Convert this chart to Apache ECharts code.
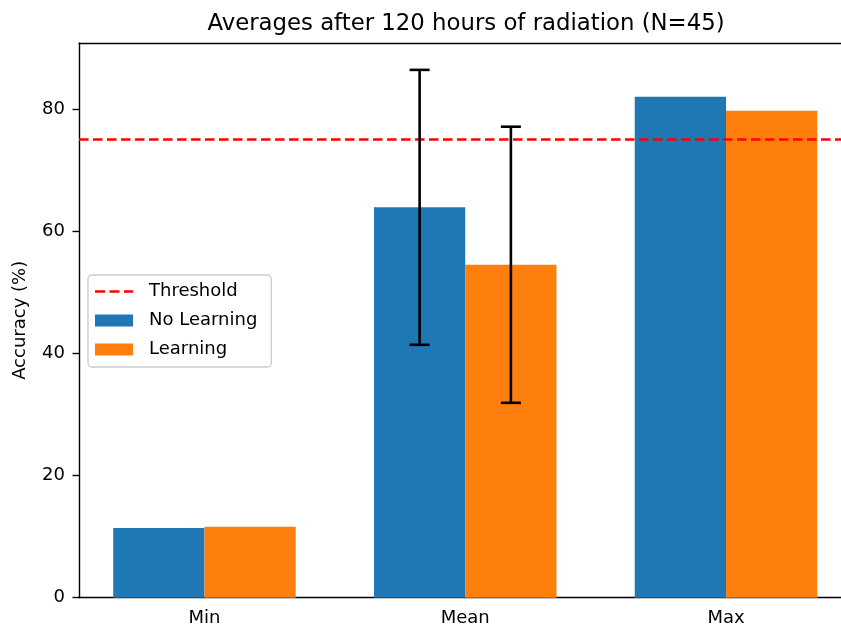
<!DOCTYPE html>
<html>
<head>
<meta charset="utf-8">
<script src="https://cdn.jsdelivr.net/npm/echarts@6/dist/echarts.min.js"></script>
<style>html,body{margin:0;padding:0;background:#fff;overflow:hidden;}#wrap{width:841px;height:630px;overflow:hidden;}#c{width:880px;height:630px;}</style>
</head>
<body>
<div id="wrap"><div id="c"></div></div>
<script>
var categories = ['Min', 'Mean', 'Max'];
var noLearning = [11.4, 63.9, 82.0];
var learning = [11.6, 54.5, 79.7];
var noLearningErr = [null, 22.5, null];
var learningErr = [null, 22.6, null];
var threshold = 75;
var yTicks = [0, 20, 40, 60, 80];
var yMax = 90.8;
var xRange = [-0.48, 2.48];
var barUnit = 0.35;

var FONT = 'DejaVu Sans';

function errData(vals, errs) {
  var out = [];
  for (var i = 0; i < vals.length; i++) {
    if (errs[i] != null) out.push([i, vals[i] - errs[i], vals[i] + errs[i]]);
  }
  return out;
}

function errSeries(name, vals, errs, side) {
  return {
    type: 'custom',
    name: name + ' err',
    xAxisIndex: 1, yAxisIndex: 1,
    z: 5,
    data: errData(vals, errs),
    renderItem: function (params, api) {
      var band = api.size([1, 0])[0];
      var c = api.coord([api.value(0), api.value(1)]);
      var t = api.coord([api.value(0), api.value(2)]);
      var x = c[0] + side * barUnit / 2 * band;
      var cap = 10;
      var st = { stroke: '#000', lineWidth: 2.6 };
      return {
        type: 'group',
        children: [
          { type: 'line', shape: { x1: x, y1: c[1], x2: x, y2: t[1] }, style: st },
          { type: 'line', shape: { x1: x - cap, y1: c[1], x2: x + cap, y2: c[1] }, style: st },
          { type: 'line', shape: { x1: x - cap, y1: t[1], x2: x + cap, y2: t[1] }, style: st }
        ]
      };
    }
  };
}

var chart = echarts.init(document.getElementById('c'), null, { renderer: 'canvas' });
var TOP = 43, H = 597.7 - 43;
var spine = { show: true, onZero: false, lineStyle: { color: '#000', width: 1.4 } };
chart.setOption({
  animation: false,
  backgroundColor: '#fff',
  title: {
    text: 'Averages after 120 hours of radiation (N=45)',
    left: 461, textAlign: 'center', top: 8,
    textStyle: { fontFamily: FONT, fontSize: 22.8, fontWeight: 'normal', color: '#000' }
  },
  legend: {
    orient: 'vertical',
    left: 88, top: 275,
    padding: [6, 14, 7, 7],
    itemWidth: 38, itemHeight: 12,
    itemGap: 8,
    borderColor: '#cccccc', borderWidth: 1.3, borderRadius: 4,
    backgroundColor: 'rgba(255,255,255,0.8)',
    textStyle: { fontFamily: FONT, fontSize: 18, color: '#000', lineHeight: 21, padding: [0, 0, 0, 11] },
    data: [
      { name: 'Threshold', icon: 'path://M0,5 L10,5 L10,7.6 L0,7.6 Z M14.5,5 L24.5,5 L24.5,7.6 L14.5,7.6 Z M29,5 L38,5 L38,7.6 L29,7.6 Z', itemStyle: { color: '#ff0000' } },
      { name: 'No Learning', icon: 'rect' },
      { name: 'Learning', icon: 'rect' }
    ]
  },
  grid: [
    { left: 79, width: 773, top: TOP, height: H, containLabel: false },
    { left: 74.1, width: 782.3, top: TOP, height: H, containLabel: false }
  ],
  xAxis: [
    {
      type: 'value', gridIndex: 0, min: xRange[0], max: xRange[1], position: 'top',
      axisLine: spine, axisTick: { show: false }, axisLabel: { show: false }, splitLine: { show: false }
    },
    {
      type: 'category', gridIndex: 1, data: categories,
      axisLine: { show: false },
      axisTick: { alignWithLabel: true, length: 6.5, lineStyle: { color: '#000', width: 1.4 } },
      axisLabel: { fontFamily: FONT, fontSize: 18, color: '#000', margin: 12 },
      splitLine: { show: false }
    },
    {
      type: 'value', gridIndex: 0, min: xRange[0], max: xRange[1], position: 'bottom',
      axisLine: spine, axisTick: { show: false }, axisLabel: { show: false }, splitLine: { show: false }
    }
  ],
  yAxis: [
    {
      type: 'value', gridIndex: 0, min: 0, max: yMax, interval: 20,
      name: 'Accuracy (%)', nameLocation: 'middle', nameGap: 50,
      nameTextStyle: { fontFamily: FONT, fontSize: 18, color: '#000' },
      axisLine: spine,
      axisTick: { show: true, length: 6.5, lineStyle: { color: '#000', width: 1.4 }, customValues: yTicks },
      axisLabel: { fontFamily: FONT, fontSize: 18, color: '#000', margin: 14, customValues: yTicks },
      splitLine: { show: false }
    },
    { type: 'value', gridIndex: 1, min: 0, max: yMax, show: false, axisLine: { show: false }, axisTick: { show: false }, splitLine: { show: false } }
  ],
  series: [
    {
      name: 'No Learning', type: 'bar', xAxisIndex: 1, yAxisIndex: 1,
      data: noLearning, barGap: 0, barCategoryGap: '30%',
      itemStyle: { color: '#1f77b4' }, z: 2
    },
    {
      name: 'Learning', type: 'bar', xAxisIndex: 1, yAxisIndex: 1,
      data: learning, barGap: 0, barCategoryGap: '30%',
      itemStyle: { color: '#ff7f0e' }, z: 2
    },
    {
      name: 'Threshold', type: 'line', xAxisIndex: 0, yAxisIndex: 0,
      data: [[xRange[0], threshold], [xRange[1], threshold]],
      showSymbol: false, symbol: 'none', z: 4,
      lineStyle: { color: '#ff0000', width: 2.7, type: [9.5, 4.5] },
      itemStyle: { color: '#ff0000' }
    },
    errSeries('No Learning', noLearning, noLearningErr, -1),
    errSeries('Learning', learning, learningErr, 1)
  ]
});
</script>
</body>
</html>
